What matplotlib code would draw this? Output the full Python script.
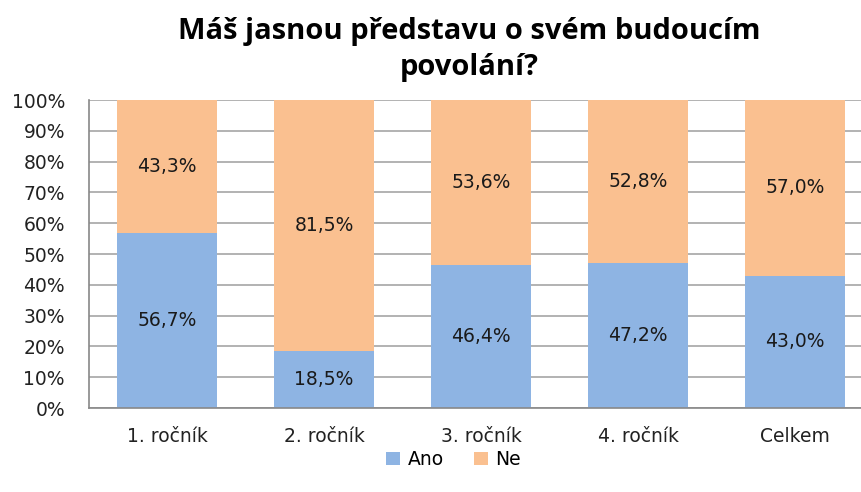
import matplotlib
matplotlib.use("Agg")
import matplotlib.pyplot as plt
import numpy as np

categories = ["1. ročník", "2. ročník", "3. ročník", "4. ročník", "Celkem"]
ano = [56.7, 18.5, 46.4, 47.2, 43.0]
ne = [43.3, 81.5, 53.6, 52.8, 57.0]
yticks = list(range(0, 101, 10))

c_ano = "#8EB4E3"
c_ne = "#FAC090"
grid_c = "#A6A6A6"

fig = plt.figure(figsize=(8.61, 4.92), dpi=100)
# plot area runs slightly past the right edge, like the source
ax = fig.add_axes([88.5 / 861, (492 - 408) / 492, 785 / 861, 308 / 492])

x = np.arange(len(categories))
w = 0.637
ax.bar(x, ano, w, color=c_ano, label="Ano", zorder=2)
ax.bar(x, ne, w, bottom=ano, color=c_ne, label="Ne", zorder=2)

for i in range(len(categories)):
    ax.text(x[i], ano[i] / 2, ("%.1f%%" % ano[i]).replace(".", ","),
            ha="center", va="center", fontsize=13.5, color="#1a1a1a", zorder=3)
    ax.text(x[i], ano[i] + ne[i] / 2, ("%.1f%%" % ne[i]).replace(".", ","),
            ha="center", va="center", fontsize=13.5, color="#1a1a1a", zorder=3)

ax.set_xlim(-0.5, len(categories) - 0.5)
ax.set_ylim(0, 100)
ax.set_yticks(yticks)
ax.set_yticklabels(["%d%%" % t for t in yticks], fontsize=13.5, color="#222222")
ax.set_xticks(x)
ax.set_xticklabels(categories, fontsize=13.5, color="#222222")
ax.tick_params(axis="y", length=0, pad=17)
ax.tick_params(axis="x", length=0, pad=14)
ax.yaxis.grid(True, color=grid_c, linewidth=1.2, zorder=0)
for s in ["top", "right"]:
    ax.spines[s].set_visible(False)
for s in ["left", "bottom"]:
    ax.spines[s].set_color("#888888")
    ax.spines[s].set_linewidth(1.2)

fig.text(0.545, 0.9, "Máš jasnou představu o svém budoucím\npovolání?",
         ha="center", va="center", fontsize=21, fontweight="bold",
         family=["Open Sans", "DejaVu Sans"], linespacing=1.3)

fig.legend(loc="center", bbox_to_anchor=(0.527, 0.066), ncol=2, frameon=False,
           fontsize=13.5, handlelength=0.75, handleheight=0.75, handletextpad=0.4,
           columnspacing=1.6, borderpad=0.2)

fig.savefig("out.png", dpi=100)
